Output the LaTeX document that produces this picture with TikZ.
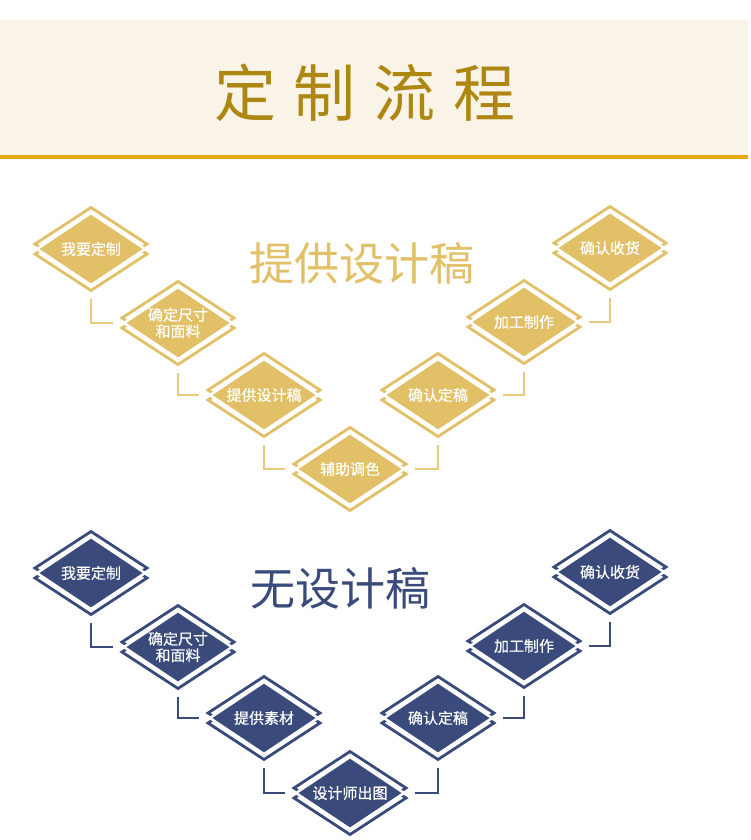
\documentclass[tikz,border=0pt]{standalone}
\usepackage{fontspec}
\newfontfamily\cjk{Noto Sans CJK SC}
\newfontfamily\cjkm{Noto Sans CJK SC}[FakeBold=0.6]
\definecolor{bannerbg}{HTML}{FAF4E8}
\definecolor{bannerline}{HTML}{E8AA14}
\definecolor{headgold}{HTML}{AE8612}
\definecolor{gold}{HTML}{E2C068}
\definecolor{goldline}{HTML}{E9C97C}
\definecolor{navy}{HTML}{3A4B7B}
\tikzset{
  outl/.style={line width=2.8pt, line join=miter},
  dfill/.style={draw=white, line width=2.5pt, line join=miter},
  dtext/.style={text=white, font=\cjkm\fontsize{15}{16.5}\selectfont, align=center, inner sep=0pt},
  conn/.style={line width=1.2pt},
  bigtitle/.style={font=\cjk\fontsize{45}{50}\selectfont, inner sep=0pt},
}
\newcommand\stepdia[5]{%
  \begin{scope}[shift={(#2,#3)}]
    \draw[outl,#4] (-56,-5) -- (0,-41.5) -- (56,-5) -- (0,31.5) -- cycle;
    \draw[outl,#4] (-56,5) -- (0,-31.5) -- (56,5) -- (0,41.5) -- cycle;
    \filldraw[dfill,fill=#4] (-54,0) -- (0,-36) -- (54,0) -- (0,36) -- cycle;
  \end{scope}
  \node[dtext] (#1) at (#2,#3) {#5};
}
\begin{document}
\begin{tikzpicture}[x=1pt,y=-1pt]
\useasboundingbox[fill=white] (0,0) rectangle (750,840);
% banner
\fill[bannerbg] (0,20) rectangle (748,155);
\fill[bannerline] (0,155) rectangle (748,159);
\node[font=\cjk\fontsize{62}{66}\selectfont, text=headgold, inner sep=0pt] (head) at (365,93) {定\hspace{18pt}制\hspace{18pt}流\hspace{18pt}程};

% gold section
\node[bigtitle, text=gold] (t1) at (362,263) {提供设计稿};
\stepdia{g1}{91}{249}{gold}{我要定制}
\stepdia{g2}{178}{323}{gold}{确定尺寸\\和面料}
\stepdia{g3}{264}{395}{gold}{提供设计稿}
\stepdia{g4}{350}{469}{gold}{辅助调色}
\stepdia{g5}{438}{395}{gold}{确认定稿}
\stepdia{g6}{524}{322}{gold}{加工制作}
\stepdia{g7}{610}{248}{gold}{确认收货}
\begin{scope}[conn, goldline]
\draw ([yshift=-50pt]g1.center) |- ([xshift=-65pt]g2.center);
\draw ([yshift=-50pt]g2.center) |- ([xshift=-65pt]g3.center);
\draw ([yshift=-50pt]g3.center) |- ([xshift=-65pt]g4.center);
\draw ([yshift=-50pt]g5.center) |- ([xshift=65pt]g4.center);
\draw ([yshift=-50pt]g6.center) |- ([xshift=65pt]g5.center);
\draw ([yshift=-50pt]g7.center) |- ([xshift=65pt]g6.center);
\end{scope}

% navy section
\node[bigtitle, text=navy] (t2) at (340,588) {无设计稿};
\stepdia{b1}{91}{573}{navy}{我要定制}
\stepdia{b2}{178}{647}{navy}{确定尺寸\\和面料}
\stepdia{b3}{264}{718}{navy}{提供素材}
\stepdia{b4}{350}{793}{navy}{设计师出图}
\stepdia{b5}{438}{718}{navy}{确认定稿}
\stepdia{b6}{524}{646}{navy}{加工制作}
\stepdia{b7}{610}{572}{navy}{确认收货}
\begin{scope}[conn, navy]
\draw ([yshift=-50pt]b1.center) |- ([xshift=-65pt]b2.center);
\draw ([yshift=-50pt]b2.center) |- ([xshift=-65pt]b3.center);
\draw ([yshift=-50pt]b3.center) |- ([xshift=-65pt]b4.center);
\draw ([yshift=-50pt]b5.center) |- ([xshift=65pt]b4.center);
\draw ([yshift=-50pt]b6.center) |- ([xshift=65pt]b5.center);
\draw ([yshift=-50pt]b7.center) |- ([xshift=65pt]b6.center);
\end{scope}
\end{tikzpicture}
\end{document}
